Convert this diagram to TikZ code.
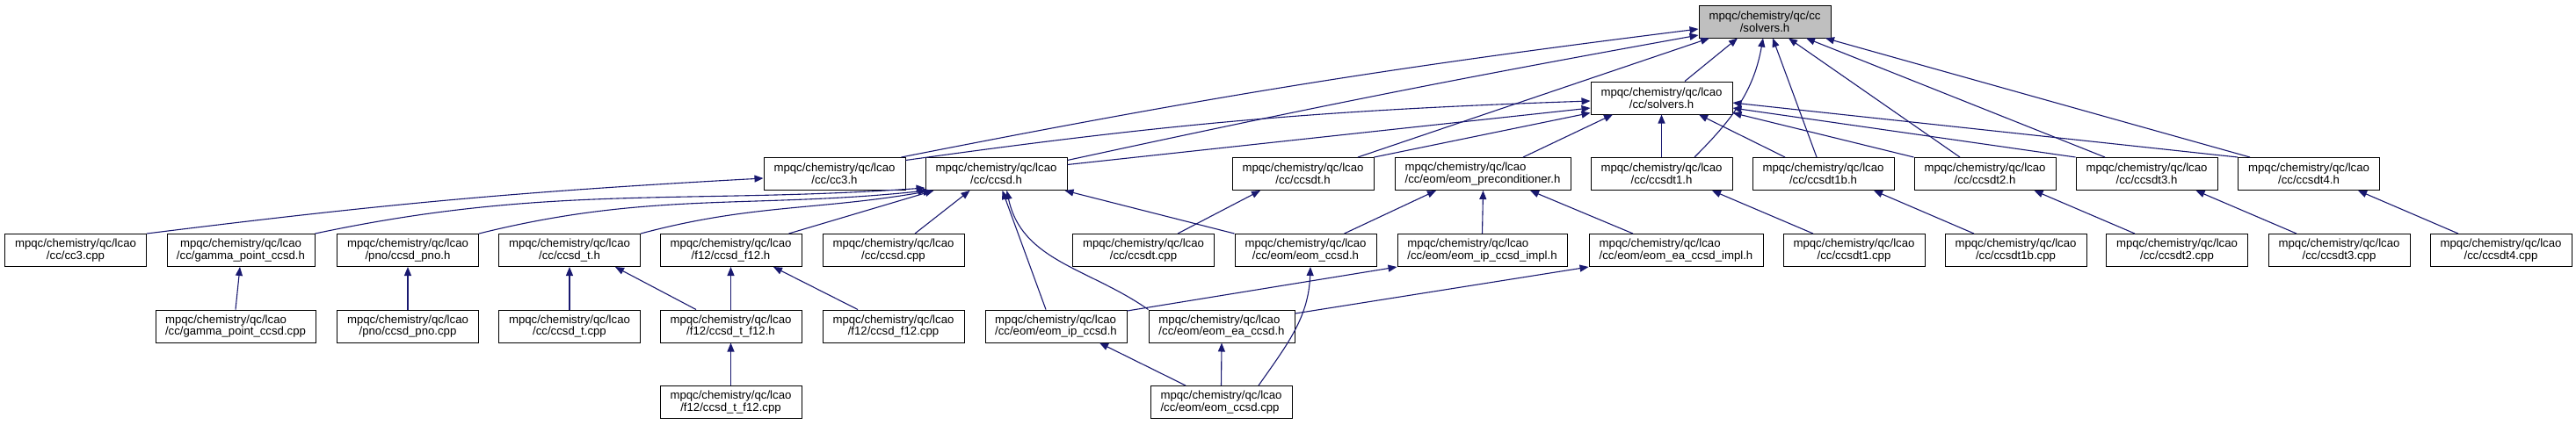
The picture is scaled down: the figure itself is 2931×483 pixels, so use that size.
\documentclass[tikz,border=0pt]{standalone}
\usepackage{fontspec}
\setmainfont{Liberation Sans}
\usetikzlibrary{arrows.meta}
\definecolor{edgeblue}{HTML}{191970}
\definecolor{rootgray}{HTML}{BFBFBF}

\begin{document}
\begin{tikzpicture}[x=1pt,y=-1pt,
  file/.style={draw=black,line width=1pt,minimum width=161pt,minimum height=37pt,
    inner sep=0pt,align=center,font=\fontsize{13.2}{13.6}\selectfont},
  dep/.style={edgeblue,line width=1.1pt,-{Triangle[length=10pt,width=8pt]}}]
  \fill[white] (0,0) rectangle (2931,483);
  \useasboundingbox (0,0) rectangle (2931,483);
  % top level
  \node[file,fill=rootgray,minimum width=150pt] (ccsolv) at (2008,24.5) {mpqc/chemistry/qc/cc\\/solvers.h};
  \node[file] (lcsolv) at (1890.5,111.5) {mpqc/chemistry/qc/lcao\\/cc/solvers.h};
  % headers
  \node[file] (cc3h) at (949.5,198) {mpqc/chemistry/qc/lcao\\/cc/cc3.h};
  \node[file] (ccsdh) at (1133.5,198) {mpqc/chemistry/qc/lcao\\/cc/ccsd.h};
  \node[file] (ccsdth) at (1482.5,198) {mpqc/chemistry/qc/lcao\\/cc/ccsdt.h};
  \node[file,minimum width=200pt,align=left] (eomprec) at (1687,198) {mpqc/chemistry/qc/lcao\\/cc/eom/eom\_preconditioner.h};
  \node[file] (ccsdtoneh) at (1890.5,198) {mpqc/chemistry/qc/lcao\\/cc/ccsdt1.h};
  \node[file] (ccsdtonebh) at (2074.5,198) {mpqc/chemistry/qc/lcao\\/cc/ccsdt1b.h};
  \node[file] (ccsdttwoh) at (2258.5,198) {mpqc/chemistry/qc/lcao\\/cc/ccsdt2.h};
  \node[file] (ccsdtthreeh) at (2442.5,198) {mpqc/chemistry/qc/lcao\\/cc/ccsdt3.h};
  \node[file] (ccsdtfourh) at (2627,198) {mpqc/chemistry/qc/lcao\\/cc/ccsdt4.h};
  % third row
  \node[file] (cc3cpp) at (86,285) {mpqc/chemistry/qc/lcao\\/cc/cc3.cpp};
  \node[file,minimum width=168pt] (gammah) at (274,285) {mpqc/chemistry/qc/lcao\\/cc/gamma\_point\_ccsd.h};
  \node[file] (pnoh) at (464,285) {mpqc/chemistry/qc/lcao\\/pno/ccsd\_pno.h};
  \node[file] (ccsdtrh) at (648,285) {mpqc/chemistry/qc/lcao\\/cc/ccsd\_t.h};
  \node[file] (ftwelveh) at (831.5,285) {mpqc/chemistry/qc/lcao\\/f12/ccsd\_f12.h};
  \node[file] (ccsdcpp) at (1016.5,285) {mpqc/chemistry/qc/lcao\\/cc/ccsd.cpp};
  \node[file] (ccsdtcpp) at (1301,285) {mpqc/chemistry/qc/lcao\\/cc/ccsdt.cpp};
  \node[file] (eomh) at (1485.5,285) {mpqc/chemistry/qc/lcao\\/cc/eom/eom\_ccsd.h};
  \node[file,minimum width=193pt,align=left] (ipimpl) at (1686.5,285) {mpqc/chemistry/qc/lcao\\/cc/eom/eom\_ip\_ccsd\_impl.h};
  \node[file,minimum width=198pt,align=left] (eaimpl) at (1907,285) {mpqc/chemistry/qc/lcao\\/cc/eom/eom\_ea\_ccsd\_impl.h};
  \node[file] (ccsdtonecpp) at (2109.5,285) {mpqc/chemistry/qc/lcao\\/cc/ccsdt1.cpp};
  \node[file] (ccsdtonebcpp) at (2293.5,285) {mpqc/chemistry/qc/lcao\\/cc/ccsdt1b.cpp};
  \node[file] (ccsdttwocpp) at (2477,285) {mpqc/chemistry/qc/lcao\\/cc/ccsdt2.cpp};
  \node[file] (ccsdtthreecpp) at (2661.5,285) {mpqc/chemistry/qc/lcao\\/cc/ccsdt3.cpp};
  \node[file] (ccsdtfourcpp) at (2845.5,285) {mpqc/chemistry/qc/lcao\\/cc/ccsdt4.cpp};
  % fourth row
  \node[file,minimum width=182pt,align=left] (gammacpp) at (268,371.5) {mpqc/chemistry/qc/lcao\\/cc/gamma\_point\_ccsd.cpp};
  \node[file] (pnocpp) at (464,371.5) {mpqc/chemistry/qc/lcao\\/pno/ccsd\_pno.cpp};
  \node[file] (ccsdtrcpp) at (648,371.5) {mpqc/chemistry/qc/lcao\\/cc/ccsd\_t.cpp};
  \node[file] (tftwelveh) at (831.5,371.5) {mpqc/chemistry/qc/lcao\\/f12/ccsd\_t\_f12.h};
  \node[file] (ftwelvecpp) at (1016.5,371.5) {mpqc/chemistry/qc/lcao\\/f12/ccsd\_f12.cpp};
  \node[file,align=left] (iph) at (1201.5,371.5) {mpqc/chemistry/qc/lcao\\/cc/eom/eom\_ip\_ccsd.h};
  \node[file,minimum width=166pt,align=left] (eah) at (1390,371.5) {mpqc/chemistry/qc/lcao\\/cc/eom/eom\_ea\_ccsd.h};
  % bottom row
  \node[file] (tftwelvecpp) at (831.5,458) {mpqc/chemistry/qc/lcao\\/f12/ccsd\_t\_f12.cpp};
  \node[file,align=left] (eomcpp) at (1389.5,458) {mpqc/chemistry/qc/lcao\\/cc/eom/eom\_ccsd.cpp};

  % includes of qc/cc/solvers.h
  \draw[dep] ([xshift=-5pt]cc3h.north east) to[bend left=2] ([yshift=-8.5pt]ccsolv.west);
  \draw[dep] ([yshift=-3.5pt]ccsdh.north east) to[bend left=1] ([yshift=-15.5pt]ccsolv.west);
  \draw[dep] ([xshift=62.5pt]ccsdth.north) -- ([xshift=-63pt]ccsolv.south);
  \draw[dep] ([xshift=26.5pt]lcsolv.north) -- ([xshift=-31pt]ccsolv.south);
  \draw[dep] ([xshift=37.5pt]ccsdtoneh.north) to[out=45,in=-100] ([xshift=-2pt]ccsolv.south);
  \draw[dep] ([xshift=-7.5pt]ccsdtonebh.north) -- ([xshift=9pt]ccsolv.south);
  \draw[dep] ([xshift=-28.5pt]ccsdttwoh.north) -- ([xshift=27pt]ccsolv.south);
  \draw[dep] ([xshift=-47.5pt]ccsdtthreeh.north) -- ([xshift=47pt]ccsolv.south);
  \draw[dep] ([xshift=-67pt]ccsdtfourh.north) -- ([xshift=69pt]ccsolv.south);
  % includes of lcao/cc/solvers.h
  \draw[dep] ([yshift=-3.5pt]cc3h.north east) to[bend left=3] ([yshift=-3.5pt]lcsolv.west);
  \draw[dep] ([yshift=-8.5pt]ccsdh.north east) -- ([yshift=-11.5pt]lcsolv.west);
  \draw[dep] (ccsdth.north east) -- ([yshift=-17pt]lcsolv.west);
  \draw[dep] ([xshift=46pt]eomprec.north) -- ([xshift=-55.5pt]lcsolv.south);
  \draw[dep] (ccsdtoneh.north) -- (lcsolv.south);
  \draw[dep] ([xshift=-43.5pt]ccsdtonebh.north) -- ([xshift=42.5pt]lcsolv.south);
  \draw[dep] (ccsdttwoh.north west) -- ([yshift=-17pt]lcsolv.east);
  \draw[dep] (ccsdtthreeh.north west) -- ([yshift=-11.5pt]lcsolv.east);
  \draw[dep] (ccsdtfourh.north west) -- ([yshift=-5.5pt]lcsolv.east);
  % includes of cc3.h and ccsd.h
  \draw[dep] (cc3cpp.north east) to[bend left=2] ([yshift=-5pt]cc3h.west);
  \draw[dep] (gammah.north east) to[out=12,in=184] ([yshift=3pt]ccsdh.south west);
  \draw[dep] (pnoh.north east) to[out=14,in=186] ([xshift=2pt]ccsdh.south west);
  \draw[dep] (ccsdtrh.north east) to[out=15,in=190] ([xshift=8pt]ccsdh.south west);
  \draw[dep] ([xshift=-15pt]ftwelveh.north east) -- ([xshift=10pt]ccsdh.south west);
  \draw[dep] ([xshift=24.5pt]ccsdcpp.north) -- ([xshift=-30pt]ccsdh.south);
  \draw[dep] ([xshift=-11.5pt]iph.north) -- ([xshift=7pt]ccsdh.south);
  \draw[dep] (eah.north west) to[out=145,in=-78] ([xshift=12pt]ccsdh.south);
  \draw[dep] (eomh.north west) -- ([xshift=-3pt]ccsdh.south east);
  % second level includes
  \draw[dep] (gammacpp.north) -- ([xshift=-1pt]gammah.south);
  \draw[dep] (pnocpp.north) -- (pnoh.south);
  \draw[dep] (ccsdtrcpp.north) -- (ccsdtrh.south);
  \draw[dep] ([xshift=-39.5pt]tftwelveh.north) -- ([xshift=52pt]ccsdtrh.south);
  \draw[dep] (tftwelveh.north) -- (ftwelveh.south);
  \draw[dep] ([xshift=-40.5pt]ftwelvecpp.north) -- ([xshift=48.5pt]ftwelveh.south);
  \draw[dep] (tftwelvecpp.north) -- (tftwelveh.south);
  \draw[dep] ([xshift=39pt]ccsdtcpp.north) -- ([xshift=-48.5pt]ccsdth.south);
  \draw[dep] ([xshift=44pt]eomh.north) -- ([xshift=-53pt]eomprec.south);
  \draw[dep] (ipimpl.north) -- ([xshift=0.5pt]eomprec.south);
  \draw[dep] ([xshift=-49pt]eaimpl.north) -- ([xshift=54pt]eomprec.south);
  \draw[dep] ([xshift=42.5pt]eomcpp.north) to[out=55,in=-92] ([xshift=5.5pt]eomh.south);
  \draw[dep] ([yshift=-1.5pt]iph.north east) -- (ipimpl.south west);
  \draw[dep] ([yshift=-4.5pt]eah.north east) -- (eaimpl.south west);
  \draw[dep] ([xshift=-40.5pt]eomcpp.north) -- ([xshift=49.5pt]iph.south);
  \draw[dep] (eomcpp.north) -- (eah.south);
  \draw[dep] ([xshift=-46.5pt]ccsdtonecpp.north) -- ([xshift=57.5pt]ccsdtoneh.south);
  \draw[dep] ([xshift=-47.5pt]ccsdtonebcpp.north) -- ([xshift=57.5pt]ccsdtonebh.south);
  \draw[dep] ([xshift=-48pt]ccsdttwocpp.north) -- ([xshift=56pt]ccsdttwoh.south);
  \draw[dep] ([xshift=-48.5pt]ccsdtthreecpp.north) -- ([xshift=56pt]ccsdtthreeh.south);
  \draw[dep] ([xshift=-48.5pt]ccsdtfourcpp.north) -- ([xshift=56pt]ccsdtfourh.south);
\end{tikzpicture}
\end{document}
